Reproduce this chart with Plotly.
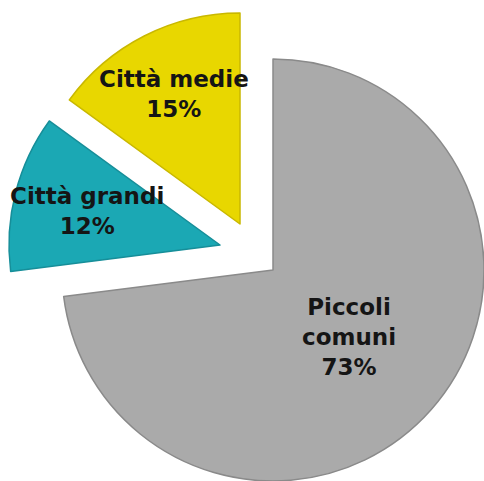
import math
import plotly.graph_objects as go

labels = ["Piccoli comuni", "Città grandi", "Città medie"]
values = [73, 12, 15]
text_labels = ["Piccoli<br>comuni<br>73%", "Città grandi<br>12%", "Città medie<br>15%"]
colors = ["#AAAAAA", "#1BA8B4", "#E8D700"]
edge_colors = ["#8A8A8A", "#168E99", "#C9B800"]

W, H = 484, 481
# exploded slice geometry (pixel centre and radius) -> domains
centres = [(273, 270), (220, 245), (240, 224)]
R = 211
label_frac = [0.48, 0.65, 0.69]

fig = go.Figure()
total = sum(values)
cum = 0
for i, lab in enumerate(labels):
    cx, cy = centres[i]
    dom_x = [max(0, (cx - R) / W), min(1, (cx + R) / W)]
    dom_y = [max(0, 1 - (cy + R) / H), min(1, 1 - (cy - R) / H)]
    cols = [colors[j] if j == i else "rgba(0,0,0,0)" for j in range(len(labels))]
    lcols = [edge_colors[j] if j == i else "rgba(0,0,0,0)" for j in range(len(labels))]
    lw = [1.5 if j == i else 0 for j in range(len(labels))]
    fig.add_trace(go.Pie(
        labels=labels, values=values, sort=False, direction="clockwise",
        rotation=0, domain=dict(x=dom_x, y=dom_y),
        marker=dict(colors=cols, line=dict(color=lcols, width=lw)),
        textinfo="none",
        showlegend=False, hoverinfo="skip",
    ))
    # label placed along the slice's mid angle (clockwise from 12 o'clock)
    mid = 2 * math.pi * (cum + values[i] / 2) / total
    cum += values[i]
    px = cx + label_frac[i] * R * math.sin(mid)
    py = cy - label_frac[i] * R * math.cos(mid)
    fig.add_annotation(
        x=px / W, y=1 - py / H, xref="paper", yref="paper",
        xanchor="center", yanchor="middle",
        text=text_labels[i], showarrow=False, align="center",
        font=dict(family="DejaVu Sans", size=23, color="#151515", weight="bold"),
    )

fig.update_layout(
    width=W, height=H,
    margin=dict(l=0, r=0, t=0, b=0),
    paper_bgcolor="white", plot_bgcolor="white",
)
fig.write_html("out.html", config={"displayModeBar": False},
               post_script="document.body.style.margin='0px';")
